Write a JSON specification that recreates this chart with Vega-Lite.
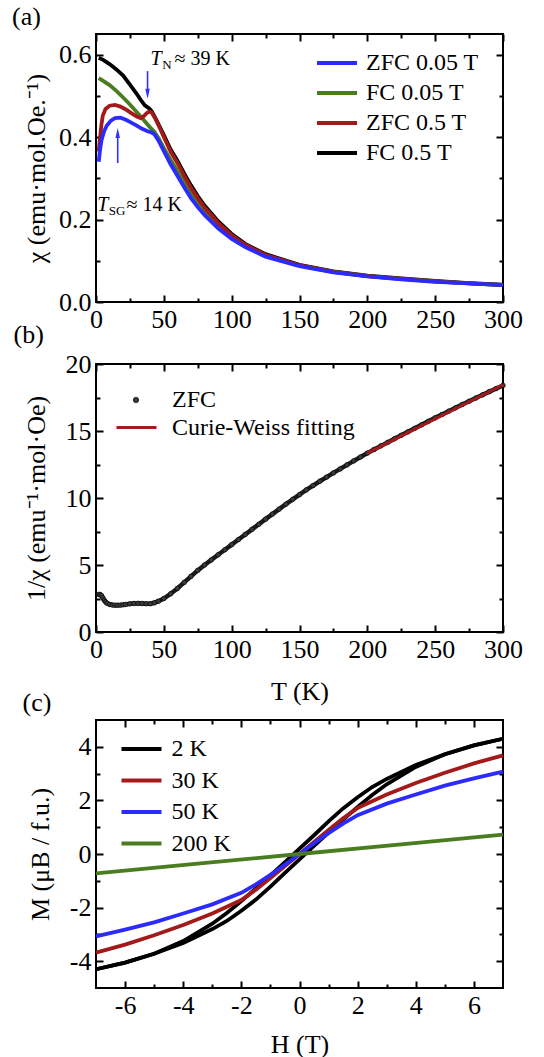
{
  "$schema": "https://vega.github.io/schema/vega-lite/v6.json",
  "padding": {"left": 11, "top": 3, "right": 5, "bottom": 5},
  "config": {
    "font": "Liberation Serif",
    "view": {"stroke": "black", "strokeWidth": 2},
    "text": {"font": "Liberation Serif"},
    "style": {"guide-label": {"font": "Liberation Serif"}, "guide-title": {"font": "Liberation Serif"}, "group-title": {"font": "Liberation Serif"}},
    "axis": {"domain": false, "grid": false, "labelFont": "Liberation Serif", "titleFont": "Liberation Serif", "labelFontSize": 26, "titleFontSize": 26, "titleFontWeight": "normal", "labelColor": "black", "titleColor": "black", "tickColor": "black", "tickWidth": 2, "labelFlush": false, "labelOverlap": false},
    "legend": {"labelFont": "Liberation Serif", "labelFontSize": 24, "labelColor": "black", "symbolStrokeWidth": 4, "symbolType": "M-2,0H2", "symbolSize": 400, "padding": 0, "labelLimit": 400},
    "title": {"font": "Liberation Serif", "fontSize": 26, "fontWeight": "normal", "anchor": "start", "frame": "group", "baseline": "alphabetic", "color": "black"}
  },
  "datasets": {
    "chi": [
      {"T":2,"chi":0.592,"series":"FC 0.5 T"},{"T":5,"chi":0.588,"series":"FC 0.5 T"},{"T":10,"chi":0.577,"series":"FC 0.5 T"},{"T":15,"chi":0.564,"series":"FC 0.5 T"},{"T":20,"chi":0.549,"series":"FC 0.5 T"},{"T":25,"chi":0.527,"series":"FC 0.5 T"},{"T":30,"chi":0.505,"series":"FC 0.5 T"},{"T":33,"chi":0.49,"series":"FC 0.5 T"},{"T":36,"chi":0.477,"series":"FC 0.5 T"},{"T":39,"chi":0.47,"series":"FC 0.5 T"},{"T":41,"chi":0.463,"series":"FC 0.5 T"},{"T":44,"chi":0.445,"series":"FC 0.5 T"},{"T":47,"chi":0.425,"series":"FC 0.5 T"},{"T":50,"chi":0.405,"series":"FC 0.5 T"},{"T":55,"chi":0.37,"series":"FC 0.5 T"},{"T":60,"chi":0.343,"series":"FC 0.5 T"},{"T":65,"chi":0.312,"series":"FC 0.5 T"},{"T":70,"chi":0.283,"series":"FC 0.5 T"},{"T":75,"chi":0.257,"series":"FC 0.5 T"},{"T":80,"chi":0.234,"series":"FC 0.5 T"},{"T":90,"chi":0.196,"series":"FC 0.5 T"},{"T":100,"chi":0.165,"series":"FC 0.5 T"},{"T":110,"chi":0.141,"series":"FC 0.5 T"},{"T":125,"chi":0.116,"series":"FC 0.5 T"},{"T":150,"chi":0.09,"series":"FC 0.5 T"},{"T":175,"chi":0.074,"series":"FC 0.5 T"},{"T":200,"chi":0.064,"series":"FC 0.5 T"},{"T":225,"chi":0.057,"series":"FC 0.5 T"},{"T":250,"chi":0.051,"series":"FC 0.5 T"},{"T":275,"chi":0.046,"series":"FC 0.5 T"},{"T":300,"chi":0.042,"series":"FC 0.5 T"},
      {"T":2,"chi":0.543,"series":"FC 0.05 T"},{"T":5,"chi":0.537,"series":"FC 0.05 T"},{"T":10,"chi":0.526,"series":"FC 0.05 T"},{"T":15,"chi":0.512,"series":"FC 0.05 T"},{"T":20,"chi":0.496,"series":"FC 0.05 T"},{"T":25,"chi":0.479,"series":"FC 0.05 T"},{"T":30,"chi":0.461,"series":"FC 0.05 T"},{"T":35,"chi":0.442,"series":"FC 0.05 T"},{"T":40,"chi":0.423,"series":"FC 0.05 T"},{"T":43,"chi":0.413,"series":"FC 0.05 T"},{"T":46,"chi":0.398,"series":"FC 0.05 T"},{"T":50,"chi":0.373,"series":"FC 0.05 T"},{"T":55,"chi":0.345,"series":"FC 0.05 T"},{"T":60,"chi":0.318,"series":"FC 0.05 T"},{"T":65,"chi":0.29,"series":"FC 0.05 T"},{"T":70,"chi":0.265,"series":"FC 0.05 T"},{"T":75,"chi":0.242,"series":"FC 0.05 T"},{"T":80,"chi":0.222,"series":"FC 0.05 T"},{"T":90,"chi":0.187,"series":"FC 0.05 T"},{"T":100,"chi":0.159,"series":"FC 0.05 T"},{"T":110,"chi":0.137,"series":"FC 0.05 T"},{"T":125,"chi":0.113,"series":"FC 0.05 T"},{"T":150,"chi":0.088,"series":"FC 0.05 T"},{"T":175,"chi":0.073,"series":"FC 0.05 T"},{"T":200,"chi":0.063,"series":"FC 0.05 T"},{"T":225,"chi":0.056,"series":"FC 0.05 T"},{"T":250,"chi":0.05,"series":"FC 0.05 T"},{"T":275,"chi":0.045,"series":"FC 0.05 T"},{"T":300,"chi":0.041,"series":"FC 0.05 T"},
      {"T":2,"chi":0.365,"series":"ZFC 0.5 T"},{"T":3,"chi":0.4,"series":"ZFC 0.5 T"},{"T":4,"chi":0.43,"series":"ZFC 0.5 T"},{"T":5,"chi":0.452,"series":"ZFC 0.5 T"},{"T":7,"chi":0.468,"series":"ZFC 0.5 T"},{"T":10,"chi":0.476,"series":"ZFC 0.5 T"},{"T":14,"chi":0.478,"series":"ZFC 0.5 T"},{"T":18,"chi":0.474,"series":"ZFC 0.5 T"},{"T":22,"chi":0.467,"series":"ZFC 0.5 T"},{"T":26,"chi":0.458,"series":"ZFC 0.5 T"},{"T":30,"chi":0.45,"series":"ZFC 0.5 T"},{"T":33,"chi":0.446,"series":"ZFC 0.5 T"},{"T":35,"chi":0.45,"series":"ZFC 0.5 T"},{"T":37,"chi":0.457,"series":"ZFC 0.5 T"},{"T":39,"chi":0.462,"series":"ZFC 0.5 T"},{"T":41,"chi":0.46,"series":"ZFC 0.5 T"},{"T":44,"chi":0.443,"series":"ZFC 0.5 T"},{"T":47,"chi":0.422,"series":"ZFC 0.5 T"},{"T":50,"chi":0.4,"series":"ZFC 0.5 T"},{"T":55,"chi":0.365,"series":"ZFC 0.5 T"},{"T":60,"chi":0.337,"series":"ZFC 0.5 T"},{"T":65,"chi":0.306,"series":"ZFC 0.5 T"},{"T":70,"chi":0.277,"series":"ZFC 0.5 T"},{"T":75,"chi":0.252,"series":"ZFC 0.5 T"},{"T":80,"chi":0.229,"series":"ZFC 0.5 T"},{"T":90,"chi":0.192,"series":"ZFC 0.5 T"},{"T":100,"chi":0.162,"series":"ZFC 0.5 T"},{"T":110,"chi":0.139,"series":"ZFC 0.5 T"},{"T":125,"chi":0.114,"series":"ZFC 0.5 T"},{"T":150,"chi":0.089,"series":"ZFC 0.5 T"},{"T":175,"chi":0.073,"series":"ZFC 0.5 T"},{"T":200,"chi":0.063,"series":"ZFC 0.5 T"},{"T":225,"chi":0.056,"series":"ZFC 0.5 T"},{"T":250,"chi":0.05,"series":"ZFC 0.5 T"},{"T":275,"chi":0.045,"series":"ZFC 0.5 T"},{"T":300,"chi":0.041,"series":"ZFC 0.5 T"},
      {"T":2,"chi":0.34,"series":"ZFC 0.05 T"},{"T":3,"chi":0.37,"series":"ZFC 0.05 T"},{"T":4,"chi":0.392,"series":"ZFC 0.05 T"},{"T":6,"chi":0.414,"series":"ZFC 0.05 T"},{"T":8,"chi":0.428,"series":"ZFC 0.05 T"},{"T":11,"chi":0.44,"series":"ZFC 0.05 T"},{"T":14,"chi":0.446,"series":"ZFC 0.05 T"},{"T":18,"chi":0.447,"series":"ZFC 0.05 T"},{"T":22,"chi":0.442,"series":"ZFC 0.05 T"},{"T":26,"chi":0.435,"series":"ZFC 0.05 T"},{"T":30,"chi":0.428,"series":"ZFC 0.05 T"},{"T":34,"chi":0.42,"series":"ZFC 0.05 T"},{"T":38,"chi":0.414,"series":"ZFC 0.05 T"},{"T":41,"chi":0.411,"series":"ZFC 0.05 T"},{"T":43,"chi":0.407,"series":"ZFC 0.05 T"},{"T":46,"chi":0.392,"series":"ZFC 0.05 T"},{"T":50,"chi":0.366,"series":"ZFC 0.05 T"},{"T":55,"chi":0.334,"series":"ZFC 0.05 T"},{"T":60,"chi":0.306,"series":"ZFC 0.05 T"},{"T":65,"chi":0.278,"series":"ZFC 0.05 T"},{"T":70,"chi":0.252,"series":"ZFC 0.05 T"},{"T":75,"chi":0.23,"series":"ZFC 0.05 T"},{"T":80,"chi":0.211,"series":"ZFC 0.05 T"},{"T":90,"chi":0.179,"series":"ZFC 0.05 T"},{"T":100,"chi":0.153,"series":"ZFC 0.05 T"},{"T":110,"chi":0.133,"series":"ZFC 0.05 T"},{"T":125,"chi":0.11,"series":"ZFC 0.05 T"},{"T":150,"chi":0.087,"series":"ZFC 0.05 T"},{"T":175,"chi":0.072,"series":"ZFC 0.05 T"},{"T":200,"chi":0.062,"series":"ZFC 0.05 T"},{"T":225,"chi":0.055,"series":"ZFC 0.05 T"},{"T":250,"chi":0.049,"series":"ZFC 0.05 T"},{"T":275,"chi":0.045,"series":"ZFC 0.05 T"},{"T":300,"chi":0.041,"series":"ZFC 0.05 T"}
    ],
    "ann": [
      {"T":40.2,"chi":0.574,"kind":"main","text":"T"},
      {"T":48.8,"chi":0.565,"kind":"sub","text":"N"},
      {"T":57.8,"chi":0.574,"kind":"rest","text":"≈ 39 K"},
      {"T":0.9,"chi":0.22,"kind":"main","text":"T"},
      {"T":9.4,"chi":0.211,"kind":"sub","text":"SG"},
      {"T":22.5,"chi":0.22,"kind":"rest","text":"≈ 14 K"}
    ],
    "arrows": [
      {"label":"N","T":38,"from":0.56,"to":0.505},
      {"label":"SG","T":16,"from":0.337,"to":0.41}
    ],
    "inv": [
      {"T":2,"v":2.8},{"T":3,"v":2.8},{"T":4,"v":2.72},{"T":5,"v":2.55},{"T":6,"v":2.38},{"T":7,"v":2.25},{"T":8,"v":2.15},{"T":10,"v":2.06},{"T":12,"v":2.02},{"T":14,"v":2.0},{"T":16,"v":2.0},{"T":18,"v":2.01},{"T":20,"v":2.03},{"T":22,"v":2.06},{"T":25,"v":2.1},{"T":28,"v":2.13},{"T":31,"v":2.14},{"T":34,"v":2.13},{"T":37,"v":2.11},{"T":40,"v":2.11},{"T":43,"v":2.18},{"T":46,"v":2.3},{"T":50,"v":2.5},{"T":55,"v":2.85},{"T":60,"v":3.25},{"T":65,"v":3.7},{"T":70,"v":4.15},{"T":75,"v":4.6},{"T":80,"v":5.0},{"T":85,"v":5.38},{"T":90,"v":5.76},{"T":95,"v":6.14},{"T":100,"v":6.52},{"T":105,"v":6.9},{"T":110,"v":7.28},{"T":115,"v":7.66},{"T":120,"v":8.04},{"T":125,"v":8.42},{"T":130,"v":8.8},{"T":135,"v":9.17},{"T":140,"v":9.54},{"T":145,"v":9.9},{"T":150,"v":10.25},{"T":155,"v":10.6},{"T":160,"v":10.93},{"T":165,"v":11.25},{"T":170,"v":11.56},{"T":175,"v":11.87},{"T":180,"v":12.17},{"T":185,"v":12.47},{"T":190,"v":12.77},{"T":195,"v":13.06},{"T":200,"v":13.35},{"T":205,"v":13.62},{"T":210,"v":13.89},{"T":215,"v":14.15},{"T":220,"v":14.42},{"T":225,"v":14.68},{"T":230,"v":14.94},{"T":235,"v":15.2},{"T":240,"v":15.46},{"T":245,"v":15.72},{"T":250,"v":15.98},{"T":255,"v":16.23},{"T":260,"v":16.48},{"T":265,"v":16.73},{"T":270,"v":16.98},{"T":275,"v":17.22},{"T":280,"v":17.46},{"T":285,"v":17.7},{"T":290,"v":17.94},{"T":295,"v":18.17},{"T":300,"v":18.4}
    ],
    "cw": [
      {"T":200,"v":13.35,"series":"Curie-Weiss fitting"},{"T":300,"v":18.45,"series":"Curie-Weiss fitting"}
    ],
    "mh": [
      {"H":7,"M":4.3,"series":"2 K","branch":"down"},{"H":6,"M":4.05,"series":"2 K","branch":"down"},{"H":5,"M":3.72,"series":"2 K","branch":"down"},{"H":4,"M":3.32,"series":"2 K","branch":"down"},{"H":3,"M":2.8,"series":"2 K","branch":"down"},{"H":2.5,"M":2.5,"series":"2 K","branch":"down"},{"H":2,"M":2.12,"series":"2 K","branch":"down"},{"H":1.5,"M":1.7,"series":"2 K","branch":"down"},{"H":1,"M":1.22,"series":"2 K","branch":"down"},{"H":0.5,"M":0.7,"series":"2 K","branch":"down"},{"H":0,"M":0.2,"series":"2 K","branch":"down"},{"H":-0.5,"M":-0.3,"series":"2 K","branch":"down"},{"H":-1,"M":-0.8,"series":"2 K","branch":"down"},{"H":-1.5,"M":-1.28,"series":"2 K","branch":"down"},{"H":-2,"M":-1.76,"series":"2 K","branch":"down"},{"H":-2.5,"M":-2.2,"series":"2 K","branch":"down"},{"H":-3,"M":-2.6,"series":"2 K","branch":"down"},{"H":-4,"M":-3.25,"series":"2 K","branch":"down"},{"H":-5,"M":-3.72,"series":"2 K","branch":"down"},{"H":-6,"M":-4.05,"series":"2 K","branch":"down"},{"H":-7,"M":-4.3,"series":"2 K","branch":"down"},
      {"H":-7,"M":-4.3,"series":"2 K","branch":"up"},{"H":-6,"M":-4.05,"series":"2 K","branch":"up"},{"H":-5,"M":-3.72,"series":"2 K","branch":"up"},{"H":-4,"M":-3.32,"series":"2 K","branch":"up"},{"H":-3,"M":-2.8,"series":"2 K","branch":"up"},{"H":-2.5,"M":-2.5,"series":"2 K","branch":"up"},{"H":-2,"M":-2.12,"series":"2 K","branch":"up"},{"H":-1.5,"M":-1.7,"series":"2 K","branch":"up"},{"H":-1,"M":-1.22,"series":"2 K","branch":"up"},{"H":-0.5,"M":-0.7,"series":"2 K","branch":"up"},{"H":0,"M":-0.2,"series":"2 K","branch":"up"},{"H":0.5,"M":0.3,"series":"2 K","branch":"up"},{"H":1,"M":0.8,"series":"2 K","branch":"up"},{"H":1.5,"M":1.28,"series":"2 K","branch":"up"},{"H":2,"M":1.76,"series":"2 K","branch":"up"},{"H":2.5,"M":2.2,"series":"2 K","branch":"up"},{"H":3,"M":2.6,"series":"2 K","branch":"up"},{"H":4,"M":3.25,"series":"2 K","branch":"up"},{"H":5,"M":3.72,"series":"2 K","branch":"up"},{"H":6,"M":4.05,"series":"2 K","branch":"up"},{"H":7,"M":4.3,"series":"2 K","branch":"up"},
      {"H":-7,"M":-3.68,"series":"30 K","branch":"up"},{"H":-6,"M":-3.38,"series":"30 K","branch":"up"},{"H":-5,"M":-3.03,"series":"30 K","branch":"up"},{"H":-4,"M":-2.65,"series":"30 K","branch":"up"},{"H":-3,"M":-2.22,"series":"30 K","branch":"up"},{"H":-2,"M":-1.72,"series":"30 K","branch":"up"},{"H":-1.5,"M":-1.33,"series":"30 K","branch":"up"},{"H":-1,"M":-0.9,"series":"30 K","branch":"up"},{"H":-0.5,"M":-0.45,"series":"30 K","branch":"up"},{"H":0,"M":0,"series":"30 K","branch":"up"},{"H":0.5,"M":0.45,"series":"30 K","branch":"up"},{"H":1,"M":0.9,"series":"30 K","branch":"up"},{"H":1.5,"M":1.33,"series":"30 K","branch":"up"},{"H":2,"M":1.72,"series":"30 K","branch":"up"},{"H":3,"M":2.22,"series":"30 K","branch":"up"},{"H":4,"M":2.65,"series":"30 K","branch":"up"},{"H":5,"M":3.03,"series":"30 K","branch":"up"},{"H":6,"M":3.38,"series":"30 K","branch":"up"},{"H":7,"M":3.68,"series":"30 K","branch":"up"},
      {"H":-7,"M":-3.07,"series":"50 K","branch":"up"},{"H":-6,"M":-2.82,"series":"50 K","branch":"up"},{"H":-5,"M":-2.55,"series":"50 K","branch":"up"},{"H":-4,"M":-2.22,"series":"50 K","branch":"up"},{"H":-3,"M":-1.88,"series":"50 K","branch":"up"},{"H":-2,"M":-1.45,"series":"50 K","branch":"up"},{"H":-1.5,"M":-1.13,"series":"50 K","branch":"up"},{"H":-1,"M":-0.78,"series":"50 K","branch":"up"},{"H":-0.5,"M":-0.4,"series":"50 K","branch":"up"},{"H":0,"M":0,"series":"50 K","branch":"up"},{"H":0.5,"M":0.4,"series":"50 K","branch":"up"},{"H":1,"M":0.78,"series":"50 K","branch":"up"},{"H":1.5,"M":1.13,"series":"50 K","branch":"up"},{"H":2,"M":1.45,"series":"50 K","branch":"up"},{"H":3,"M":1.88,"series":"50 K","branch":"up"},{"H":4,"M":2.22,"series":"50 K","branch":"up"},{"H":5,"M":2.55,"series":"50 K","branch":"up"},{"H":6,"M":2.82,"series":"50 K","branch":"up"},{"H":7,"M":3.07,"series":"50 K","branch":"up"},
      {"H":-7,"M":-0.72,"series":"200 K","branch":"up"},{"H":-3.5,"M":-0.36,"series":"200 K","branch":"up"},{"H":0,"M":0,"series":"200 K","branch":"up"},{"H":3.5,"M":0.36,"series":"200 K","branch":"up"},{"H":7,"M":0.72,"series":"200 K","branch":"up"}
    ]
  },
  "bounds": "flush",
  "spacing": 62,
  "resolve": {"scale": {"color": "independent", "fill": "independent", "stroke": "independent"}, "legend": {"color": "independent", "fill": "independent", "stroke": "independent"}},
  "vconcat": [
    {
      "width": 407, "height": 268,
      "title": {"text": "(a)", "dx": -84, "offset": 3, "font": "Liberation Serif"},
      "layer": [
        {
          "data": {"name": "chi"},
          "mark": {"type": "line", "strokeWidth": 3.8},
          "encoding": {
            "x": {"field": "T", "type": "quantitative", "scale": {"domain": [0, 300], "nice": false, "zero": false},
                  "axis": {"orient": "bottom", "labelFont": "Liberation Serif", "values": [0,25,50,75,100,125,150,175,200,225,250,275,300], "labelExpr": "datum.value % 50 === 0 ? datum.label : ''", "tickSize": {"condition": {"test": "datum.value % 50 === 0", "value": -7}, "value": -4}, "labelPadding": 11, "title": null}},
            "y": {"field": "chi", "type": "quantitative", "scale": {"domain": [0, 0.65], "nice": false, "zero": false},
                  "axis": {"orient": "left", "labelFont": "Liberation Serif", "titleFont": "Liberation Serif", "values": [0,0.1,0.2,0.3,0.4,0.5,0.6], "format": ".1f", "labelExpr": "round(datum.value*10) % 2 === 0 ? datum.label : ''", "tickSize": {"condition": {"test": "round(datum.value*10) % 2 === 0", "value": -7}, "value": -4}, "labelPadding": 12, "title": "χ (emu·mol.Oe.⁻¹)", "titleX": -47}},
            "color": {"field": "series", "type": "nominal",
                      "scale": {"domain": ["ZFC 0.05 T", "FC 0.05 T", "ZFC 0.5 T", "FC 0.5 T"], "range": ["#2b2bff", "#4a7c20", "#a31a1a", "#000000"]},
                      "legend": {"orient": "none", "legendX": 229, "legendY": 17, "title": null, "labelOffset": 17, "columns": 1, "rowPadding": 6}}
          }
        },
        {
          "data": {"name": "arrows"},
          "mark": {"type": "rule", "color": "#3030ff", "strokeWidth": 1.6},
          "encoding": {
            "x": {"field": "T", "type": "quantitative", "scale": {"domain": [0, 300], "nice": false, "zero": false},
                  "axis": {"orient": "top", "values": [0,25,50,75,100,125,150,175,200,225,250,275,300], "labels": false, "tickSize": {"condition": {"test": "datum.value % 50 === 0", "value": -7}, "value": -4}, "title": null}},
            "y": {"field": "from", "type": "quantitative", "scale": {"domain": [0, 0.65], "nice": false, "zero": false},
                  "axis": {"orient": "right", "values": [0,0.1,0.2,0.3,0.4,0.5,0.6], "labels": false, "tickSize": {"condition": {"test": "round(datum.value*10) % 2 === 0", "value": -7}, "value": -4}, "title": null}},
            "y2": {"field": "to"}
          }
        },
        {
          "data": {"name": "arrows"},
          "transform": [{"filter": "datum.label === 'N'"}],
          "mark": {"type": "point", "filled": true, "color": "#3030ff", "opacity": 1, "size": 100, "shape": "M0,1L-0.45,-1L0.45,-1Z"},
          "encoding": {
            "x": {"field": "T", "type": "quantitative", "scale": {"domain": [0, 300], "nice": false, "zero": false}, "axis": null},
            "y": {"field": "to", "type": "quantitative", "scale": {"domain": [0, 0.65], "nice": false, "zero": false}, "axis": null}
          }
        },
        {
          "data": {"name": "arrows"},
          "transform": [{"filter": "datum.label === 'SG'"}],
          "mark": {"type": "point", "filled": true, "color": "#3030ff", "opacity": 1, "size": 100, "shape": "M0,-1L-0.45,1L0.45,1Z"},
          "encoding": {
            "x": {"field": "T", "type": "quantitative", "scale": {"domain": [0, 300], "nice": false, "zero": false}, "axis": null},
            "y": {"field": "to", "type": "quantitative", "scale": {"domain": [0, 0.65], "nice": false, "zero": false}, "axis": null}
          }
        },
        {
          "data": {"name": "ann"},
          "transform": [{"filter": "datum.kind === 'main'"}],
          "mark": {"type": "text", "font": "Liberation Serif", "fontSize": 20, "fontStyle": "italic", "align": "left", "baseline": "alphabetic", "color": "black"},
          "encoding": {
            "x": {"field": "T", "type": "quantitative", "scale": {"domain": [0, 300], "nice": false, "zero": false}, "axis": null},
            "y": {"field": "chi", "type": "quantitative", "scale": {"domain": [0, 0.65], "nice": false, "zero": false}, "axis": null},
            "text": {"field": "text"}
          }
        },
        {
          "data": {"name": "ann"},
          "transform": [{"filter": "datum.kind === 'sub'"}],
          "mark": {"type": "text", "font": "Liberation Serif", "fontSize": 13, "align": "left", "baseline": "alphabetic", "color": "black"},
          "encoding": {
            "x": {"field": "T", "type": "quantitative", "scale": {"domain": [0, 300], "nice": false, "zero": false}, "axis": null},
            "y": {"field": "chi", "type": "quantitative", "scale": {"domain": [0, 0.65], "nice": false, "zero": false}, "axis": null},
            "text": {"field": "text"}
          }
        },
        {
          "data": {"name": "ann"},
          "transform": [{"filter": "datum.kind === 'rest'"}],
          "mark": {"type": "text", "font": "Liberation Serif", "fontSize": 20, "align": "left", "baseline": "alphabetic", "color": "black"},
          "encoding": {
            "x": {"field": "T", "type": "quantitative", "scale": {"domain": [0, 300], "nice": false, "zero": false}, "axis": null},
            "y": {"field": "chi", "type": "quantitative", "scale": {"domain": [0, 0.65], "nice": false, "zero": false}, "axis": null},
            "text": {"field": "text"}
          }
        }
      ],
      "resolve": {"axis": {"x": "independent", "y": "independent"}}
    },
    {
      "bounds": "flush",
      "spacing": 88,
      "resolve": {"scale": {"color": "independent", "fill": "independent", "stroke": "independent"}, "legend": {"color": "independent", "fill": "independent", "stroke": "independent"}},
      "vconcat": [
        {
          "width": 407, "height": 268,
          "title": {"text": "(b)", "dx": -82.5, "offset": 3, "font": "Liberation Serif"},
          "layer": [
            {
              "data": {"name": "inv"},
              "mark": {"type": "line", "strokeWidth": 4.5, "color": "#1a1a1a"},
              "encoding": {
                "x": {"field": "T", "type": "quantitative", "scale": {"domain": [0, 300], "nice": false, "zero": false},
                      "axis": {"orient": "bottom", "labelFont": "Liberation Serif", "titleFont": "Liberation Serif", "values": [0,25,50,75,100,125,150,175,200,225,250,275,300], "labelExpr": "datum.value % 50 === 0 ? datum.label : ''", "tickSize": {"condition": {"test": "datum.value % 50 === 0", "value": -7}, "value": -4}, "labelPadding": 11, "title": "T (K)", "titlePadding": 13}},
                "y": {"field": "v", "type": "quantitative", "scale": {"domain": [0, 20], "nice": false, "zero": false},
                      "axis": {"orient": "left", "labelFont": "Liberation Serif", "titleFont": "Liberation Serif", "values": [0,2.5,5,7.5,10,12.5,15,17.5,20], "labelExpr": "datum.value % 5 === 0 ? datum.label : ''", "tickSize": {"condition": {"test": "datum.value % 5 === 0", "value": -7}, "value": -4}, "labelPadding": 12, "title": "1/χ (emu⁻¹·mol·Oe)", "titleX": -47}}
              }
            },
            {
              "data": {"name": "inv"},
              "transform": [{"calculate": "'ZFC'", "as": "series"}],
              "mark": {"type": "point", "filled": true, "size": 22, "stroke": "black", "strokeWidth": 0.6, "opacity": 1},
              "encoding": {
                "x": {"field": "T", "type": "quantitative", "scale": {"domain": [0, 300], "nice": false, "zero": false},
                      "axis": {"orient": "top", "values": [0,25,50,75,100,125,150,175,200,225,250,275,300], "labels": false, "tickSize": {"condition": {"test": "datum.value % 50 === 0", "value": -7}, "value": -4}, "title": null}},
                "y": {"field": "v", "type": "quantitative", "scale": {"domain": [0, 20], "nice": false, "zero": false},
                      "axis": {"orient": "right", "values": [0,2.5,5,7.5,10,12.5,15,17.5,20], "labels": false, "tickSize": {"condition": {"test": "datum.value % 5 === 0", "value": -7}, "value": -4}, "title": null}},
                "fill": {"field": "series", "type": "nominal", "scale": {"domain": ["ZFC"], "range": ["#3a3a3a"]},
                         "legend": {"orient": "none", "legendX": 28, "legendY": 24, "title": null, "symbolType": "circle", "symbolSize": 30, "symbolStrokeWidth": 0.6, "labelOffset": 24}}
              }
            },
            {
              "data": {"name": "cw"},
              "mark": {"type": "line", "strokeWidth": 3},
              "encoding": {
                "x": {"field": "T", "type": "quantitative", "scale": {"domain": [0, 300], "nice": false, "zero": false}, "axis": null},
                "y": {"field": "v", "type": "quantitative", "scale": {"domain": [0, 20], "nice": false, "zero": false}, "axis": null},
                "stroke": {"field": "series", "type": "nominal", "scale": {"domain": ["Curie-Weiss fitting"], "range": ["#a31a1a"]},
                           "legend": {"orient": "none", "legendX": 19, "legendY": 42, "title": null, "symbolType": "stroke", "symbolSize": 1600, "symbolStrokeWidth": 3, "labelOffset": 14}}
              }
            }
          ],
          "resolve": {"axis": {"x": "independent", "y": "independent"}}
        },
        {
          "width": 407, "height": 268,
          "title": {"text": "(c)", "dx": -73.5, "offset": 3, "font": "Liberation Serif"},
          "layer": [
            {
              "data": {"name": "mh"},
              "mark": {"type": "line", "strokeWidth": 3.8},
              "encoding": {
                "x": {"field": "H", "type": "quantitative", "scale": {"domain": [-7, 7], "nice": false, "zero": false},
                      "axis": {"orient": "bottom", "labelFont": "Liberation Serif", "titleFont": "Liberation Serif", "values": [-6,-5,-4,-3,-2,-1,0,1,2,3,4,5,6], "labelExpr": "datum.value % 2 === 0 ? '' + datum.value : ''", "tickSize": {"condition": {"test": "datum.value % 2 === 0", "value": -7}, "value": -4}, "labelPadding": 11, "title": "H (T)", "titlePadding": 10}},
                "y": {"field": "M", "type": "quantitative", "scale": {"domain": [-5, 5], "nice": false, "zero": false},
                      "axis": {"orient": "left", "labelFont": "Liberation Serif", "titleFont": "Liberation Serif", "values": [-4,-3,-2,-1,0,1,2,3,4], "labelExpr": "datum.value % 2 === 0 ? '' + datum.value : ''", "tickSize": {"condition": {"test": "datum.value % 2 === 0", "value": -7}, "value": -4}, "labelPadding": 12, "title": "M (μB / f.u.)", "titleX": -43}},
                "color": {"field": "series", "type": "nominal",
                          "scale": {"domain": ["2 K", "30 K", "50 K", "200 K"], "range": ["#000000", "#a31a1a", "#2b2bff", "#4a7c20"]},
                          "legend": {"orient": "none", "legendX": 33.5, "legendY": 17, "title": null, "labelOffset": 18, "columns": 1, "rowPadding": 7.5}},
                "detail": {"field": "branch"}
              }
            },
            {
              "data": {"name": "mh"},
              "mark": {"type": "point", "opacity": 0},
              "encoding": {
                "x": {"field": "H", "type": "quantitative", "scale": {"domain": [-7, 7], "nice": false, "zero": false},
                      "axis": {"orient": "top", "values": [-6,-5,-4,-3,-2,-1,0,1,2,3,4,5,6], "labels": false, "tickSize": {"condition": {"test": "datum.value % 2 === 0", "value": -7}, "value": -4}, "title": null}},
                "y": {"field": "M", "type": "quantitative", "scale": {"domain": [-5, 5], "nice": false, "zero": false},
                      "axis": {"orient": "right", "values": [-4,-3,-2,-1,0,1,2,3,4], "labels": false, "tickSize": {"condition": {"test": "datum.value % 2 === 0", "value": -7}, "value": -4}, "title": null}}
              }
            }
          ],
          "resolve": {"axis": {"x": "independent", "y": "independent"}}
        }
      ]
    }
  ]
}
